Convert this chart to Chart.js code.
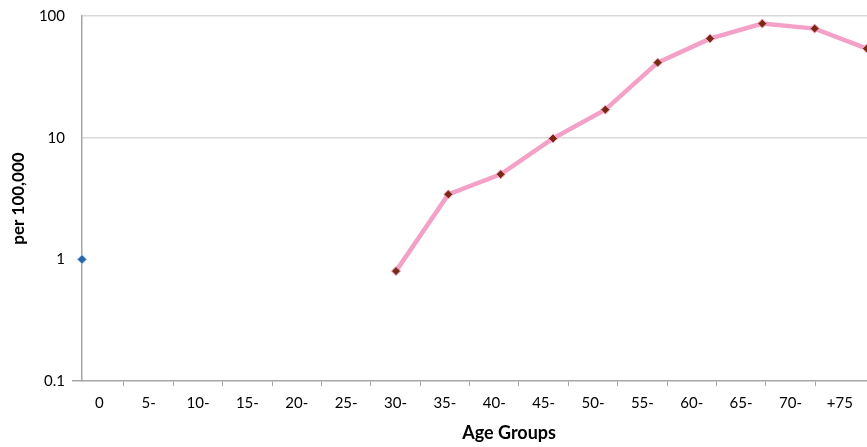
<!DOCTYPE html>
<html>
<head>
<meta charset="utf-8">
<script src="https://cdn.jsdelivr.net/npm/chart.js@4"></script>
<style>
  html, body { margin: 0; padding: 0; background: #fff; }
  #wrap { width: 867px; height: 447px; }
</style>
</head>
<body>
<div id="wrap"><canvas id="ageChart"></canvas></div>
<script>
// --- data ---
const ageGroups = ['0', '5-', '10-', '15-', '20-', '25-', '30-', '35-', '40-', '45-', '50-', '55-', '60-', '65-', '70-', '+75'];
const rateIndex = [6, 7, 8, 9, 10, 11, 12, 13, 14, 15];          // which age group each rate belongs to
const rateValues = [0.8, 3.42, 5.0, 9.85, 17, 41.4, 65.2, 86.6, 78.8, 54];
const firstIndex = [0];
const firstValues = [1];
const yTicks = [0.1, 1, 10, 100];

// build {x, y} points from the arrays
function toPoints(idx, vals) {
    return idx.map((k, i) => ({ x: k, y: vals[i] }));
}

const FONT = 'Lato, "Open Sans", sans-serif';
const AXIS_GREY = '#a6a6a6';

// draws "Age Groups" a little right of centre, like the original
const xTitlePlugin = {
    id: 'xTitle',
    afterDraw(chart) {
        const s = chart.scales.xLab;
        const c = chart.ctx;
        c.save();
        c.font = 'bold 18px ' + FONT;
        c.fillStyle = '#000';
        c.textAlign = 'center';
        c.textBaseline = 'middle';
        c.fillText('Age Groups', s.getPixelForValue(8.3), 433);
        c.restore();
    }
};

new Chart(document.getElementById('ageChart'), {
    type: 'line',
    data: {
        datasets: [
            {
                label: 'rate',
                data: toPoints(rateIndex, rateValues),
                xAxisID: 'x',
                borderColor: '#f4a1c8',
                borderWidth: 4.5,
                pointStyle: 'rectRot',
                pointRadius: 4.5,
                pointBackgroundColor: '#7a2a12',
                pointBorderColor: '#f4a1c8',
                pointBorderWidth: 1,
                tension: 0
            },
            {
                label: 'first',
                data: toPoints(firstIndex, firstValues),
                xAxisID: 'x',
                showLine: false,
                pointStyle: 'rectRot',
                pointRadius: 4.5,
                pointBackgroundColor: '#2a64a6',
                pointBorderColor: '#8dbbe8',
                pointBorderWidth: 1,
                clip: false
            }
        ]
    },
    options: {
        responsive: true,
        maintainAspectRatio: false,
        animation: false,
        layout: { autoPadding: false, padding: { top: 8, right: 0, bottom: 0, left: 0 } },
        plugins: {
            legend: { display: false },
            tooltip: { enabled: false }
        },
        scales: {
            x: {
                type: 'linear',
                min: 0,
                max: 15,
                display: false
            },
            xLab: {
                type: 'linear',
                position: 'bottom',
                min: -0.35,
                max: 15.55,
                afterBuildTicks: (scale) => {
                    scale.ticks = ageGroups.map((_, i) => ({ value: i }));
                },
                afterFit: (scale) => { scale.height = 66; },
                ticks: {
                    autoSkip: false,
                    maxRotation: 0,
                    padding: 8,
                    color: '#000',
                    font: { family: FONT, size: 15 },
                    callback: (v) => ageGroups[v]
                },
                grid: {
                    offset: true,
                    drawOnChartArea: false,
                    drawTicks: true,
                    tickLength: 5,
                    color: (c) => (c.tick ? AXIS_GREY : 'transparent')
                },
                border: { display: true, color: AXIS_GREY, width: 1.5 }
            },
            y: {
                type: 'logarithmic',
                min: 0.1,
                max: 100,
                afterBuildTicks: (scale) => {
                    scale.ticks = yTicks.map(v => ({ value: v }));
                },
                afterFit: (scale) => { scale.width = 82; },
                ticks: {
                    padding: 7,
                    color: '#000',
                    font: { family: FONT, size: 15 },
                    callback: (v) => String(v)
                },
                grid: {
                    tickLength: 10,
                    color: (c) => (c.tick && (c.tick.value === 10 || c.tick.value === 100) ? '#d9d9d9' : 'transparent'),
                    tickColor: (c) => (c.tick && c.tick.value === 0.1 ? AXIS_GREY : 'transparent'),
                    lineWidth: 1.5
                },
                border: { display: true, color: AXIS_GREY, width: 1.5 },
                title: {
                    display: true,
                    text: 'per 100,000',
                    color: '#000',
                    font: { family: FONT, size: 17, weight: 'bold' },
                    padding: { top: 8, bottom: 0 }
                }
            }
        }
    },
    plugins: [xTitlePlugin]
});
</script>
</body>
</html>
